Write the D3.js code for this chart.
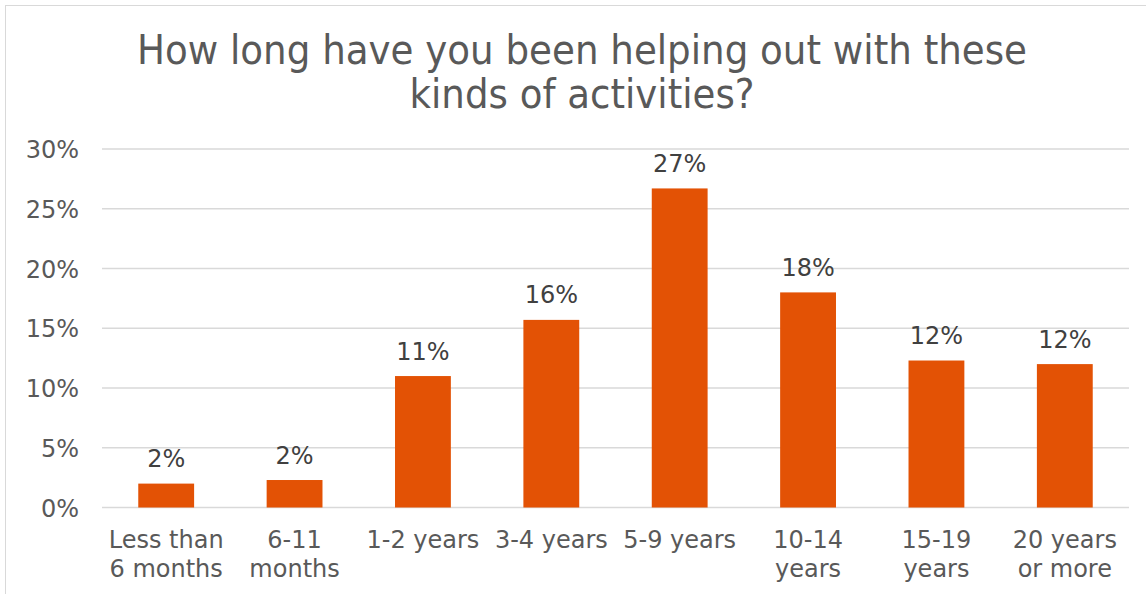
<!DOCTYPE html>
<html>
<head>
<meta charset="utf-8">
<script src="https://cdn.jsdelivr.net/npm/d3@7"></script>
<style>
  html, body { margin: 0; padding: 0; background: #fff; }
  svg { display: block; }
  text { font-family: "DejaVu Sans", Verdana, sans-serif; }
</style>
</head>
<body>
<svg id="chart" width="1146" height="594"></svg>
<script>
// Survey: time spent helping out with these activities
const categories = [
  ["Less than", "6 months"],
  ["6-11", "months"],
  ["1-2 years"],
  ["3-4 years"],
  ["5-9 years"],
  ["10-14", "years"],
  ["15-19", "years"],
  ["20 years", "or more"]
];
const shares = [2.0, 2.3, 11.0, 15.7, 26.7, 18.0, 12.3, 12.0];
const shareLabels = ["2%", "2%", "11%", "16%", "27%", "18%", "12%", "12%"];
const yTicks = [0, 5, 10, 15, 20, 25, 30];
const titleLines = ["How long have you been helping out with these", "kinds of activities?"];

const W = 1146, H = 594;
const plot = { left: 102, right: 1129, top: 149, bottom: 507.5 };
const svg = d3.select("#chart");

// chart frame
svg.append("rect")
  .attr("x", 5.5).attr("y", 5.5)
  .attr("width", W + 10).attr("height", H + 10)
  .attr("fill", "#fff").attr("stroke", "#d9d9d9").attr("stroke-width", 1);

const x = d3.scaleBand()
  .domain(d3.range(categories.length))
  .range([plot.left, plot.right])
  .paddingInner(0.565).paddingOuter(0.2825);

const y = d3.scaleLinear().domain([0, 30]).range([plot.bottom, plot.top]);

// gridlines
svg.append("g").selectAll("line").data(yTicks).join("line")
  .attr("x1", plot.left).attr("x2", plot.right)
  .attr("y1", d => y(d)).attr("y2", d => y(d))
  .attr("stroke", "#d9d9d9").attr("stroke-width", 1.5);

// y axis labels
const yAxis = d3.axisLeft(y).tickValues(yTicks).tickFormat(d => d + "%").tickSize(0).tickPadding(0);
const yg = svg.append("g").attr("transform", `translate(79,0)`).call(yAxis);
yg.select(".domain").remove();
yg.selectAll("text")
  .attr("font-family", "DejaVu Sans, Verdana, sans-serif")
  .attr("font-size", 24).attr("fill", "#595959").attr("dy", "0.36em");

// bars
svg.append("g").selectAll("rect").data(shares).join("rect")
  .attr("x", (d, i) => x(i))
  .attr("width", x.bandwidth())
  .attr("y", d => y(d))
  .attr("height", d => y(0) - y(d))
  .attr("fill", "#E35205");

// value labels
svg.append("g").selectAll("text").data(shares).join("text")
  .attr("x", (d, i) => x(i) + x.bandwidth() / 2)
  .attr("y", d => y(d) - 16.5)
  .attr("text-anchor", "middle")
  .attr("font-size", 24).attr("fill", "#404040")
  .text((d, i) => shareLabels[i]);

// category labels
const xl = svg.append("g").selectAll("text").data(categories).join("text")
  .attr("x", (d, i) => x(i) + x.bandwidth() / 2)
  .attr("y", 548)
  .attr("text-anchor", "middle")
  .attr("font-size", 24).attr("fill", "#595959");
xl.selectAll("tspan").data(d => d).join("tspan")
  .attr("x", function () { return d3.select(this.parentNode).attr("x"); })
  .attr("dy", (d, j) => j === 0 ? 0 : 29)
  .text(d => d);

// title
const titleWidths = [890, 345];
svg.append("g").selectAll("text").data(titleLines).join("text")
  .attr("x", W / 2 + 9)
  .attr("y", (d, i) => 64 + i * 44)
  .attr("text-anchor", "middle")
  .attr("font-size", 40).attr("fill", "#595959")
  .attr("textLength", (d, i) => titleWidths[i])
  .attr("lengthAdjust", "spacingAndGlyphs")
  .text(d => d);
</script>
</body>
</html>
